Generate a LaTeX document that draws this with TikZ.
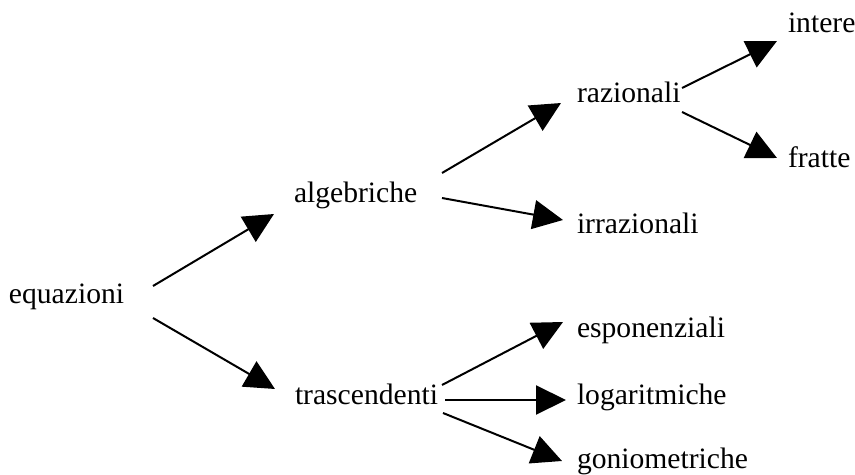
\documentclass[tikz,border=0pt]{standalone}
\usepackage{fontspec}
\setmainfont{Liberation Serif}
\usetikzlibrary{arrows.meta}
\begin{document}
\begin{tikzpicture}[x=0.5pt,y=-0.5pt,
  lbl/.style={anchor=base west,inner sep=0pt,outer sep=0pt,font=\fontsize{14.8pt}{17pt}\selectfont},
  arr/.style={line width=1pt,-{Triangle[length=15pt,width=14.5pt]}}]
\useasboundingbox (0,0) rectangle (855,475);
% labels
\node[lbl] (equazioni) at (9,304) {equazioni};
\node[lbl] (algebriche) at (294,203) {algebriche};
\node[lbl] (trascendenti) at (295,404) {trascendenti};
\node[lbl] (razionali) at (577,103) {razionali};
\node[lbl] (irrazionali) at (577,234) {irrazionali};
\node[lbl] (intere) at (788,33) {intere};
\node[lbl] (fratte) at (788,168) {fratte};
\node[lbl] (esponenziali) at (577,337) {esponenziali};
\node[lbl] (logaritmiche) at (577,404) {logaritmiche};
\node[lbl] (goniometriche) at (577,468) {goniometriche};
% connector ends
\coordinate (eqA) at (153,286); \coordinate (alA) at (274,214);
\coordinate (eqT) at (153,318); \coordinate (trA) at (275,389);
\coordinate (alR) at (442,173); \coordinate (raA) at (561,103);
\coordinate (alI) at (442,198); \coordinate (irA) at (563,220);
\coordinate (raI) at (682,88);  \coordinate (inA) at (777,41);
\coordinate (raF) at (682,112); \coordinate (frA) at (777,158);
\coordinate (trE) at (442,385); \coordinate (esA) at (563,322);
\coordinate (trL) at (445,400); \coordinate (loA) at (566,400);
\coordinate (trG) at (443,413); \coordinate (goA) at (562,461);
% connectors
\draw[arr] (eqA) -- (alA);
\draw[arr] (eqT) -- (trA);
\draw[arr] (alR) -- (raA);
\draw[arr] (alI) -- (irA);
\draw[arr] (raI) -- (inA);
\draw[arr] (raF) -- (frA);
\draw[arr] (trE) -- (esA);
\draw[arr] (trL) -- (loA);
\draw[arr] (trG) -- (goA);
\end{tikzpicture}
\end{document}
